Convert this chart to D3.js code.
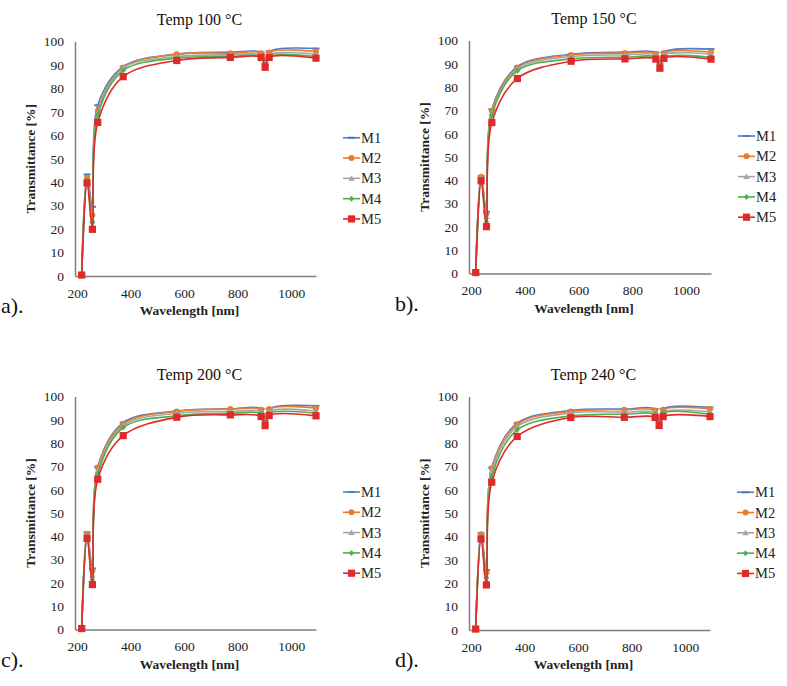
<!DOCTYPE html>
<html>
<head>
<meta charset="utf-8">
<script src="https://cdn.jsdelivr.net/npm/d3@7"></script>
<style>
  html, body { margin: 0; padding: 0; background: #fff; }
</style>
</head>
<body>
<svg id="chart" width="787" height="686"></svg>
<script>
// ---------------- DATA ----------------
const wavelengths = [225, 245, 265, 285, 380, 580, 780, 895, 910, 925, 1100];
const seriesNames = ["M1", "M2", "M3", "M4", "M5"];
const panelTitles = ["Temp 100 °C", "Temp 150 °C", "Temp 200 °C", "Temp 240 °C"];
const panelLabels = ["a).", "b).", "c).", "d)."];
const xTicks = [200, 400, 600, 800, 1000];
const yTicks = [0, 10, 20, 30, 40, 50, 60, 70, 80, 90, 100];

// Transmittance [%] per series (M1..M5), one array per temperature
const temp100 = [
  [0.4, 43.3, 29.5, 72.8, 89.3, 94.6, 95.4, 95.3, 90.5, 95.7, 97.0],
  [0.4, 41.9, 26.0, 70.4, 88.9, 94.6, 95.0, 95.0, 90.5, 95.3, 95.7],
  [0.4, 41.3, 23.8, 69.4, 88.6, 93.6, 94.3, 94.2, 90.3, 94.3, 94.6],
  [0.4, 40.9, 22.6, 68.7, 87.6, 92.9, 93.6, 93.6, 89.8, 93.6, 93.6],
  [0.4, 39.7, 19.9, 65.5, 85.0, 91.9, 93.2, 93.2, 89.0, 93.2, 92.9]
];
const temp150 = [
  [0.4, 41.8, 26.5, 70.5, 88.8, 94.1, 95.0, 94.8, 90.0, 95.0, 96.3],
  [0.4, 41.5, 25.8, 69.8, 88.4, 93.8, 94.6, 94.3, 89.8, 94.6, 95.0],
  [0.4, 41.1, 24.4, 68.8, 87.8, 93.1, 93.8, 93.7, 89.5, 93.8, 94.1],
  [0.4, 40.5, 22.2, 68.0, 87.0, 92.1, 92.8, 92.8, 89.0, 92.8, 92.8],
  [0.4, 39.8, 20.1, 64.8, 83.7, 91.1, 92.1, 92.0, 88.1, 92.3, 92.0]
];
const temp200 = [
  [0.4, 41.7, 26.2, 69.9, 88.8, 93.8, 94.7, 94.7, 89.5, 94.7, 96.0],
  [0.4, 41.0, 25.2, 69.5, 88.3, 93.6, 94.6, 94.3, 89.3, 94.6, 95.0],
  [0.4, 40.5, 23.4, 68.2, 87.5, 92.8, 93.6, 93.4, 89.0, 93.6, 93.8],
  [0.4, 40.1, 21.5, 66.6, 86.7, 91.7, 92.8, 92.6, 88.5, 92.8, 92.8],
  [0.4, 39.1, 19.3, 64.5, 83.2, 91.1, 92.1, 91.4, 87.5, 91.8, 91.7]
];
const temp240 = [
  [0.4, 41.4, 25.7, 69.6, 88.6, 94.0, 94.6, 94.6, 89.5, 94.7, 95.3],
  [0.4, 41.0, 24.6, 69.3, 88.1, 93.6, 94.3, 94.0, 89.3, 94.3, 94.7],
  [0.4, 40.6, 22.9, 67.9, 87.1, 92.9, 93.3, 93.1, 89.0, 93.3, 93.4],
  [0.4, 40.0, 20.7, 65.7, 85.7, 91.7, 92.4, 92.4, 88.5, 92.9, 92.4],
  [0.4, 39.0, 19.3, 63.3, 82.9, 91.0, 91.1, 91.0, 87.6, 91.4, 91.4]
];
const panelData = [temp100, temp150, temp200, temp240];

// ---------------- STYLE / LAYOUT ----------------
const FONT = "'Liberation Serif', Tinos, 'Times New Roman', 'DejaVu Serif', serif";
const colors = ["#4A7CC8", "#E97B2F", "#A5A5A5", "#4CB050", "#E02A2A"];
const markers = ["dash", "circle", "triangle", "diamond", "square"];
const boxes = [
  { x0: 75,  x1: 316, y0: 276,   y1: 41.5 },
  { x0: 469, x1: 711, y0: 273.5, y1: 40.5 },
  { x0: 75,  x1: 316, y0: 629.5, y1: 396.5 },
  { x0: 469, x1: 710, y0: 630,   y1: 396.5 }
];

const svg = d3.select("#chart").attr("font-family", FONT).style("font-family", FONT);

function drawMarker(g, type, x, y, color) {
  if (type === "dash") {
    g.append("rect").attr("x", x - 3.5).attr("y", y - 1).attr("width", 7).attr("height", 2).attr("fill", color);
  } else if (type === "circle") {
    g.append("circle").attr("cx", x).attr("cy", y).attr("r", 3).attr("fill", color);
  } else if (type === "triangle") {
    g.append("path").attr("d", `M${x},${y - 3.2}L${x + 3.2},${y + 2.4}L${x - 3.2},${y + 2.4}Z`).attr("fill", color);
  } else if (type === "diamond") {
    g.append("path").attr("d", `M${x},${y - 3}L${x + 2.6},${y}L${x},${y + 3}L${x - 2.6},${y}Z`).attr("fill", color);
  } else if (type === "square") {
    g.append("rect").attr("x", x - 3.6).attr("y", y - 3.6).attr("width", 7.2).attr("height", 7.2).attr("fill", color);
  }
}

panelData.forEach((series, pi) => {
  const b = boxes[pi];
  const x = d3.scaleLinear().domain([200, 1100]).range([b.x0, b.x1]);
  const y = d3.scaleLinear().domain([0, 100]).range([b.y0, b.y1]);
  const g = svg.append("g");
  const cx = (b.x0 + b.x1) / 2;

  // Title
  g.append("text").attr("x", cx + 4).attr("y", b.y1 - 17)
    .attr("text-anchor", "middle").attr("font-size", 16).attr("fill", "#111")
    .text(panelTitles[pi]);

  // Y axis
  const yAxis = d3.axisLeft(y).tickValues(yTicks).tickSize(0).tickPadding(11);
  const ya = g.append("g").attr("transform", `translate(${b.x0},0)`).call(yAxis)
    .attr("font-family", null).attr("font-size", null);
  ya.select(".domain").attr("stroke", "#7f7f7f").attr("stroke-width", 1.5);
  ya.selectAll("text").attr("font-size", 13.5).attr("font-family", FONT).attr("fill", "#222");

  // X axis
  const xAxis = d3.axisBottom(x).tickValues(xTicks).tickSize(0).tickPadding(12).tickFormat(d3.format("d"));
  const xa = g.append("g").attr("transform", `translate(0,${b.y0})`).call(xAxis)
    .attr("font-family", null).attr("font-size", null);
  xa.select(".domain").attr("stroke", "#7f7f7f").attr("stroke-width", 1.5);
  xa.selectAll("text").attr("font-size", 13.5).attr("font-family", FONT).attr("fill", "#222")
    .attr("dx", 2);

  // Axis titles
  g.append("text").attr("x", cx - 6).attr("y", b.y0 + 39)
    .attr("text-anchor", "middle").attr("font-size", 13.5).attr("font-weight", "bold").attr("fill", "#222")
    .text("Wavelength [nm]");
  g.append("text")
    .attr("transform", `translate(${b.x0 - 40},${(b.y0 + b.y1) / 2}) rotate(-90)`)
    .attr("text-anchor", "middle").attr("font-size", 13.5).attr("font-weight", "bold").attr("fill", "#222")
    .text("Transmittance [%]");

  // Panel label
  g.append("text").attr("x", b.x0 - 74).attr("y", b.y0 + 37)
    .attr("font-size", 22).attr("fill", "#111")
    .text(panelLabels[pi]);

  // Series
  const line = d3.line().curve(d3.curveCatmullRom.alpha(0.5))
    .x((d, i) => x(wavelengths[i])).y(d => y(d));
  series.forEach((vals, si) => {
    const sg = g.append("g");
    sg.append("path").attr("d", line(vals)).attr("fill", "none")
      .attr("stroke", colors[si]).attr("stroke-width", 1.6);
    vals.forEach((v, i) => drawMarker(sg, markers[si], x(wavelengths[i]), y(v), colors[si]));
  });

  // Legend
  const lx = b.x1 + 27;
  const ly0 = (b.y0 + b.y1) / 2 - 21;
  seriesNames.forEach((name, si) => {
    const yy = ly0 + si * 20.3;
    g.append("line").attr("x1", lx).attr("x2", lx + 17).attr("y1", yy).attr("y2", yy)
      .attr("stroke", colors[si]).attr("stroke-width", 1.6);
    drawMarker(g, markers[si], lx + 8.5, yy, colors[si]);
    g.append("text").attr("x", lx + 18).attr("y", yy + 5)
      .attr("font-size", 14.5).attr("fill", "#222").text(name);
  });
});
</script>
</body>
</html>
